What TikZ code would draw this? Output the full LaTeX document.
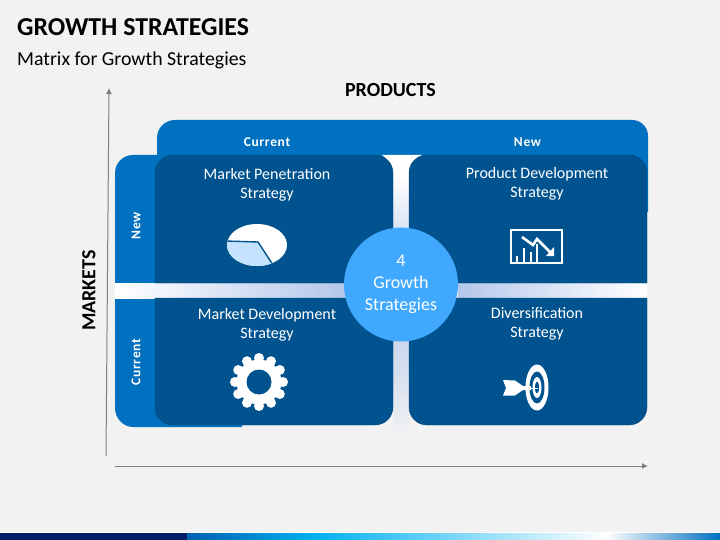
\documentclass[tikz,border=0pt]{standalone}
\usepackage{fontspec}
\setmainfont{Carlito}
\newfontfamily\spacedfont[LetterSpace=5]{Carlito}
\definecolor{bgc}{HTML}{F2F2F2}
\definecolor{tabc}{HTML}{0070C0}
\definecolor{cardc}{HTML}{00538F}
\definecolor{bandc}{HTML}{B4C7EA}
\definecolor{circc}{HTML}{40A9FF}
\definecolor{axisc}{HTML}{7F7F7F}
\usetikzlibrary{arrows.meta}
\tikzset{
  tabfill/.style={fill=tabc},
  cardfill/.style={fill=cardc,draw=cardc!85!black,line width=0.4pt},
  axisline/.style={draw=axisc,line width=1pt,-{Latex[length=6pt,width=6pt]}},
  headtxt/.style={text=white,font=\fontsize{13.5}{15}\spacedfont\bfseries},
  cardtxt/.style={text=white,align=center,font=\fontsize{16}{19}\selectfont},
  blacktxt/.style={text=black,font=\fontsize{20}{24}\selectfont\bfseries},
  iconline/.style={draw=white,line width=1.5pt}
}
\begin{document}
\begin{tikzpicture}[x=1pt,y=-1pt]
\useasboundingbox (0,0) rectangle (720,540);
\fill[bgc] (0,0) rectangle (720,540);
% footer
\fill[white] (0,532) rectangle (720,533);
\fill[color={rgb,255:red,0;green,31;blue,102}] (0,533) rectangle (187,540);
\shade[left color={rgb,255:red,0;green,95;blue,176},right color={rgb,255:red,0;green,176;blue,240}] (187,533) rectangle (312,540);
\shade[left color={rgb,255:red,0;green,176;blue,240},right color=white] (312,533) rectangle (606,540);
\shade[left color=white,right color=tabc] (606,533) rectangle (720,540);
% title
\node[anchor=base west,inner sep=0,text=black,font=\fontsize{25.8}{30}\selectfont\bfseries] (title) at (17,36) {GROWTH STRATEGIES};
\node[anchor=base west,inner sep=0,text=black,font=\fontsize{19.8}{23}\selectfont] (subtitle) at (17,66) {Matrix for Growth Strategies};
\node[blacktxt,inner sep=0] (products) at (390.5,90) {PRODUCTS};
\node[blacktxt,inner sep=0,rotate=90] (markets) at (89,290.5) {MARKETS};
% axes
\coordinate (ya) at (106,456);
\coordinate (yb) at (109,88);
\coordinate (xa) at (115,466);
\coordinate (xb) at (648,466);
\draw[axisline] (ya) -- (yb);
\draw[axisline] (xa) -- (xb);
% top tab
\fill[tabfill] (157,200) -- (157,138) .. controls (157,128) and (165,120) .. (175,120) -- (632,120) .. controls (641,120) and (648,127) .. (648,136) -- (648,212) -- (157,212) -- cycle;
% left tabs
\fill[tabfill] (115,283) -- (115,173) .. controls (115,163) and (123,155) .. (133,155) -- (200,155) -- (200,283) -- cycle;
\fill[tabfill] (115,298) -- (115,408) .. controls (115,418) and (123,427) .. (133,427) -- (242,427) -- (242,298) -- cycle;
% bands
\shade[left color=white,right color=bandc] (115,283) rectangle (345,298);
\shade[left color=bandc,right color=white] (458,283) rectangle (647,298);
\fill[white] (382,155) -- (422,155) .. controls (414,160) and (409,168) .. (409,178) -- (393,178) .. controls (393,168) and (389,160) .. (382,155) -- cycle;
\shade[top color=white,bottom color=bandc] (393,176) rectangle (409,284);
\shade[top color=bandc,bottom color=bgc] (393,284) rectangle (409,440);
% cards
\draw[cardfill] (155,283) -- (155,173) .. controls (155,163) and (163,155) .. (173,155) -- (375,155) .. controls (385,155) and (393,163) .. (393,173) -- (393,283) -- cycle;
\draw[cardfill] (409,283) -- (409,173) .. controls (409,163) and (417,155) .. (427,155) -- (629,155) .. controls (639,155) and (647,163) .. (647,173) -- (647,283) -- cycle;
\draw[cardfill] (155,298) -- (155,407) .. controls (155,417) and (163,425) .. (173,425) -- (375,425) .. controls (385,425) and (393,417) .. (393,407) -- (393,298) -- cycle;
\draw[cardfill] (409,298) -- (409,407) .. controls (409,417) and (417,425) .. (427,425) -- (629,425) .. controls (639,425) and (647,417) .. (647,407) -- (647,298) -- cycle;
% circle
\node[circle,fill=circc,minimum size=114pt,inner sep=0,text=white,align=center,font=\fontsize{18}{22}\selectfont] (centre) at (401,284.5) {4\\Growth\\Strategies};
% headings
\node[headtxt,inner sep=0] (hcur) at (267,142) {Current};
\node[headtxt,inner sep=0] (hnew) at (527.5,142) {New};
\node[headtxt,inner sep=0,rotate=90] (vnew) at (136,226) {New};
\node[headtxt,inner sep=0,rotate=90] (vcur) at (136,362) {Current};
% card titles
\node[cardtxt,inner sep=0] (t1) at (267,184.5) {Market Penetration\\Strategy};
\node[cardtxt,inner sep=0] (t2) at (537,183.5) {Product Development\\Strategy};
\node[cardtxt,inner sep=0] (t3) at (267,324.5) {Market Development\\Strategy};
\node[cardtxt,inner sep=0] (t4) at (537,323.5) {Diversification\\Strategy};
% pie icon
\fill[white] (257,245) ellipse [x radius=30,y radius=21];
\begin{scope}
\clip (257,245) ellipse [x radius=30,y radius=21];
\fill[color={rgb,255:red,197;green,227;blue,255}] (225,241) -- (258,242) -- (273,264) -- (273,270) -- (225,270) -- cycle;
\draw[cardc,line width=1.4pt] (225,241) -- (258,242) -- (273,265);
\end{scope}
% gear icon
\fill[white] (259,382) circle (22.5);
\foreach \a in {0,30,...,330} \fill[white] (259,382) ++(\a:24) circle (5);
\fill[cardc] (259,382) circle (12.5);
% chart icon
\draw[iconline] (511,230) rectangle (562,263);
\draw[white,line width=1.3pt] (517,256) -- (517,263) (524,248) -- (524,263) (531,252) -- (531,263) (537,244) -- (537,263);
\draw[white,line width=2.6pt] (522,237) -- (533,245) -- (537,239) -- (551,253);
\fill[white] (546,256) -- (554,256) -- (554,247) -- cycle;
% target icon
\fill[white] (537,387.5) ellipse [x radius=11.5,y radius=23];
\fill[cardc] (537,387.5) ellipse [x radius=7.5,y radius=16];
\fill[white] (537,387.5) ellipse [x radius=4.5,y radius=10.5];
\fill[cardc] (537,387.5) ellipse [x radius=2,y radius=6];
\fill[white] (503,380) -- (515,380.5) -- (523,386) -- (531,386) -- (531,390) -- (523,390) -- (515,395.5) -- (503,395.5) -- (506,388) -- cycle;
\draw[white,line width=1pt] (530,388) -- (538,388);
\end{tikzpicture}
\end{document}
